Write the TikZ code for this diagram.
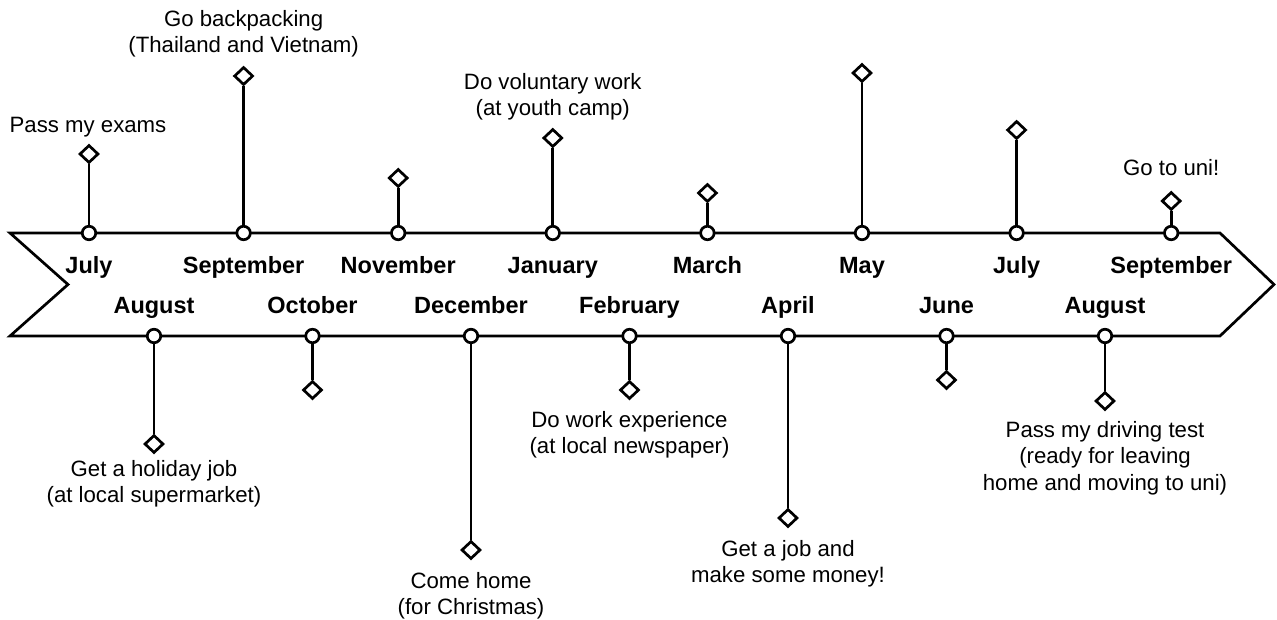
\documentclass[tikz,border=0pt]{standalone}
\usepackage{fontspec}
\setmainfont{Liberation Sans}
\usetikzlibrary{shapes.geometric}
\begin{document}
\begin{tikzpicture}[x=1pt,y=-1pt,
  ln/.style={line width=2.7pt},
  dot/.style={circle,draw,fill=white,line width=2.7pt,minimum size=13.5pt,inner sep=0pt},
  dia/.style={diamond,draw,fill=white,line width=2.7pt,minimum width=19pt,minimum height=18pt,inner sep=0pt},
  month/.style={font=\fontsize{23.5}{28}\selectfont\bfseries,anchor=base,inner sep=0pt},
  evt/.style={font=\fontsize{22.2}{26.5}\selectfont,align=center,anchor=north,inner sep=0pt}]
\useasboundingbox (0,0) rectangle (1277,620);
% arrow band
\draw[ln,line join=miter] (10,233) -- (1220,233) -- (1274,284.5) -- (1220,336) -- (10,336) -- (68,284.5) -- cycle;
% top months
\foreach \i/\m/\dy in {0/July/154,1/September/76,2/November/178,3/January/138,4/March/193,5/May/73,6/July/130,7/September/201}{
  \node[dot] (t\i) at ({89+154.6*\i},233) {};
  \node[month] (tm\i) at ({89+154.6*\i},274) {\m};
  \node[dia] (td\i) at ({89+154.6*\i},\dy) {};
  \draw[ln] (t\i) -- (td\i);
}
% bottom months
\foreach \i/\m/\dy in {0/August/444,1/October/390,2/December/550,3/February/390,4/April/518,5/June/380,6/August/401}{
  \node[dot] (b\i) at ({154+158.5*\i},336) {};
  \node[month] (bm\i) at ({154+158.5*\i},314) {\m};
  \node[dia] (bd\i) at ({154+158.5*\i},\dy) {};
  \draw[ln] (b\i) -- (bd\i);
}
% event labels above
\node[evt] (e1) at (88,117) {Pass my exams};
\node[evt] (e2) at (243.6,10) {Go backpacking\\(Thailand and Vietnam)};
\node[evt] (e3) at (552.8,73) {Do voluntary work\\(at youth camp)};
\node[evt] (e4) at (1171.2,159) {Go to uni!};
% event labels below
\node[evt] (f1) at (154,460) {Get a holiday job\\(at local supermarket)};
\node[evt] (f2) at (471,572) {Come home\\(for Christmas)};
\node[evt] (f3) at (629.5,411) {Do work experience\\(at local newspaper)};
\node[evt] (f4) at (788,540) {Get a job and\\make some money!};
\node[evt] (f5) at (1105,421) {Pass my driving test\\(ready for leaving\\home and moving to uni)};
\end{tikzpicture}
\end{document}
